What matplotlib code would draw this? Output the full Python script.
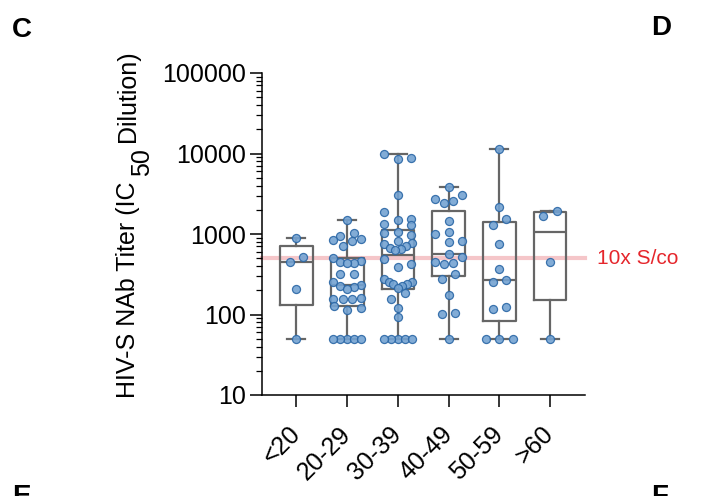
import numpy as np
import matplotlib
matplotlib.use('Agg')
import matplotlib.pyplot as plt
from matplotlib.ticker import LogLocator, NullFormatter, FixedLocator, FixedFormatter

plt.rcParams['font.family'] = ['Liberation Sans', 'DejaVu Sans']

# data (IC50 dilution titers per age group)
age_groups = ['<20', '20-29', '30-39', '40-49', '50-59', '>60']

titer_under20 = [900, 520, 450, 210, 50]
titer_20_29 = [1513, 1035, 940, 855, 838, 815, 706, 500, 460, 448, 440, 431,
               315, 315, 255, 232, 226, 220, 209, 162, 157, 157, 155, 128,
               119, 113, 50, 50, 50, 50, 50]
titer_30_39 = [9930, 8780, 8530, 3030, 1862, 1556, 1513, 1349, 1285, 1064,
               1035, 985, 815, 769, 741, 706, 675, 643, 625, 483, 419, 388,
               273, 256, 253, 237, 237, 226, 216, 183, 157, 119, 92,
               50, 50, 50, 50, 50]
titer_40_49 = [3845, 3085, 2754, 2600, 2432, 1469, 1064, 986, 815, 800, 557,
               516, 448, 440, 419, 321, 273, 175, 103, 101, 50]
titer_50_59 = [11350, 2173, 1528, 1285, 755, 363, 266, 253, 125, 117, 50, 50, 50]
titer_over60 = [1954, 1694, 448, 50]

titers = [titer_under20, titer_20_29, titer_30_39, titer_40_49,
          titer_50_59, titer_over60]

cutoff = 500
cutoff_label = '10x S/co'
ylabel_parts = ['HIV-S NAb Titer (IC', '50', 'Dilution)']
y_ticks = [10, 100, 1000, 10000, 100000]

BOX_COLOR = '#666666'
DOT_FACE = '#74a3d2'
DOT_EDGE = '#2b67a6'


# Prism-like quartiles (p*(n+1) rule), whiskers min to max
def box_stats(vals):
    v = np.asarray(vals, float)
    q1, med, q3 = np.quantile(v, [0.25, 0.5, 0.75], method='weibull')
    return dict(med=med, q1=q1, q3=q3, whislo=v.min(), whishi=v.max(), fliers=[])


# points that fall in the same horizontal band are spread out sideways,
# lowest value in the middle, then alternating right / left
def row_offsets(vals, band=0.105, step_max=0.266, half_width=0.272):
    v = np.asarray(vals, float)
    logs = np.log10(v)
    order = np.argsort(v, kind='stable')
    offsets = np.zeros(len(v))
    i = 0
    while i < len(order):
        j = i
        while j < len(order) and logs[order[j]] - logs[order[i]] < band:
            j += 1
        row = order[i:j]
        k = len(row)
        if k > 1:
            step = min(step_max, 2 * half_width / (k - 1))
            if k % 2:
                slots = [0]
                for m in range(1, k // 2 + 1):
                    slots += [m, -m]
            else:
                slots = []
                for m in range(k // 2):
                    slots += [-(m + 0.5), m + 0.5]
            for idx, s in zip(row, slots):
                offsets[idx] = s * step
        i = j
    return offsets


W, H = 703, 496
fig = plt.figure(figsize=(W / 100, H / 100), dpi=100)
ax = fig.add_axes([262 / W, 101 / H, 323 / W, 322 / H])

ax.set_yscale('log')
ax.set_ylim(10, 100000)
ax.set_xlim(-0.68, 5.69)

ax.axhline(cutoff, color='#f5c6c9', lw=3, zorder=1, clip_on=False)
ax.annotate(cutoff_label, xy=(1, cutoff), xycoords=('axes fraction', 'data'),
            xytext=(8.5, 0), textcoords='offset points', va='center', ha='left',
            color='#e5262c', fontsize=15)

line = dict(color=BOX_COLOR, lw=1.6)
ax.bxp([box_stats(t) for t in titers], positions=range(len(titers)),
       widths=0.645, capwidths=0.355, showfliers=False,
       boxprops=line, whiskerprops=line, capprops=line, medianprops=line,
       zorder=2)

for i, t in enumerate(titers):
    ax.plot(i + row_offsets(t), t, 'o', ms=5.8, mfc=DOT_FACE, mec=DOT_EDGE,
            mew=0.9, alpha=0.9, zorder=3, clip_on=False)

# axes styling
for side in ['top', 'right']:
    ax.spines[side].set_visible(False)
for side in ['left', 'bottom']:
    ax.spines[side].set_linewidth(1.1)

ax.yaxis.set_major_locator(FixedLocator(y_ticks))
ax.yaxis.set_major_formatter(FixedFormatter([str(v) for v in y_ticks]))
ax.yaxis.set_minor_locator(LogLocator(base=10, subs=np.arange(2, 10)))
ax.yaxis.set_minor_formatter(NullFormatter())
ax.tick_params(axis='y', which='major', length=8.5, width=1.1, labelsize=18, pad=3)
ax.tick_params(axis='y', which='minor', length=4.5, width=0.9)

ax.set_xticks(range(len(age_groups)))
ax.set_xticklabels(age_groups, rotation=45, ha='right', va='center',
                   rotation_mode='anchor')
ax.tick_params(axis='x', length=8.5, width=1.1, labelsize=18, pad=17)

# y label with a full-size, lowered "50"
fig.canvas.draw()
r = fig.canvas.get_renderer()
x_base, y_start = 135, 98
gap = 6
t1 = fig.text(x_base / W, y_start / H, ylabel_parts[0], rotation=90,
              rotation_mode='anchor', ha='left', va='baseline', fontsize=18)
y1 = t1.get_window_extent(r).y1 + gap
t2 = fig.text((x_base + 14) / W, y1 / H, ylabel_parts[1], rotation=90,
              rotation_mode='anchor', ha='left', va='baseline', fontsize=18)
y2 = t2.get_window_extent(r).y1 + gap
fig.text(x_base / W, y2 / H, ylabel_parts[2], rotation=90,
         rotation_mode='anchor', ha='left', va='baseline', fontsize=18)

# panel letters
letter_font = dict(fontsize=20, weight='bold', va='top', ha='left',
                   family=['Liberation Sans Narrow', 'Liberation Sans'])
fig.text(12 / W, 1 - 17 / H, 'C', **letter_font)
fig.text(651 / W, 1 - 15 / H, 'D', **letter_font)
fig.text(12 / W, 1 - 484 / H, 'E', **letter_font)
fig.text(651 / W, 1 - 484 / H, 'F', **letter_font)

fig.savefig('out.png', dpi=100)
